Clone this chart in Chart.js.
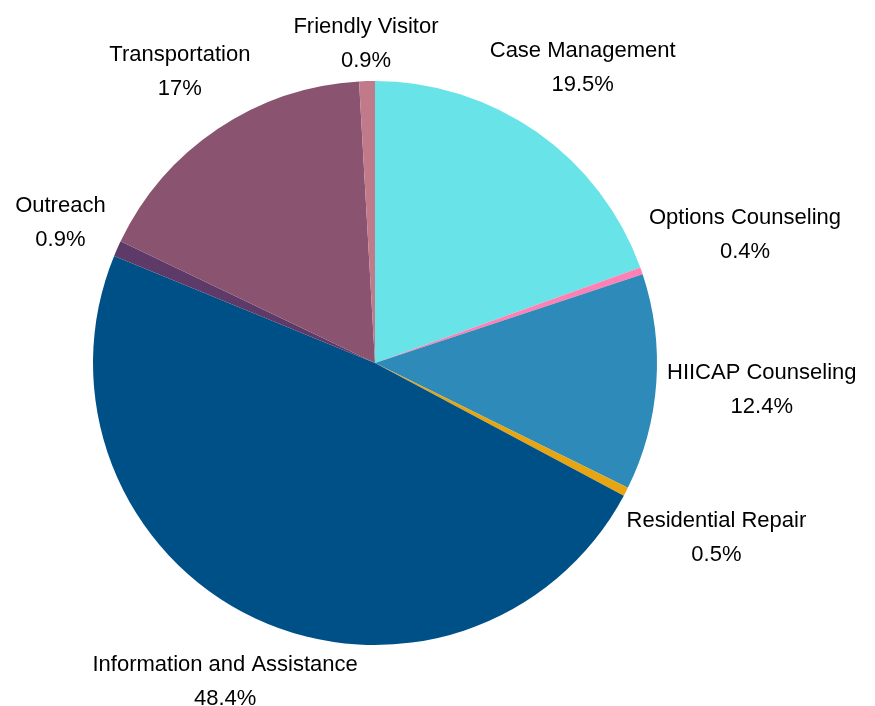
<!DOCTYPE html>
<html>
<head>
<meta charset="utf-8">
<script src="https://cdn.jsdelivr.net/npm/chart.js@4"></script>
<style>
  html, body { margin: 0; padding: 0; background: #fff; }
  #wrap { width: 875px; height: 706px; }
</style>
</head>
<body>
<div id="wrap"><canvas id="pieChart" width="875" height="706"></canvas></div>
<script>
// Chart data
const categories = ['Case Management', 'Options Counseling', 'HIICAP Counseling', 'Residential Repair',
    'Information and Assistance', 'Outreach', 'Transportation', 'Friendly Visitor'];
const shares = [19.5, 0.4, 12.4, 0.5, 48.4, 0.9, 17, 0.9];
const sliceColors = ['#68E4E9', '#FF80B4', '#2E8BB9', '#E6A511', '#005088', '#5E3A68', '#8A5470', '#C07A8A'];

// Draws "name / percent" labels outside each slice
const outsideLabels = {
    id: 'outsideLabels',
    afterDatasetsDraw(chart) {
        const ctx = chart.ctx;
        const arcs = chart.getDatasetMeta(0).data;
        const lineGap = 34;
        ctx.save();
        ctx.font = '22px "Liberation Sans", Arial, sans-serif';
        ctx.fillStyle = '#000';
        ctx.textAlign = 'center';
        ctx.textBaseline = 'middle';
        arcs.forEach((arc, i) => {
            const { x, y, startAngle, endAngle, outerRadius } = arc.getProps(['x', 'y', 'startAngle', 'endAngle', 'outerRadius'], true);
            const mid = (startAngle + endAngle) / 2;
            const ux = Math.cos(mid), uy = Math.sin(mid);
            const name = categories[i];
            const pct = shares[i] + '%';
            const hw = Math.max(ctx.measureText(name).width, ctx.measureText(pct).width) / 2;
            const hh = 27;
            const target = outerRadius + 10;
            // push box centre out along the ray until the box clears the circle
            let lo = 0, hi = outerRadius + 400;
            for (let k = 0; k < 40; k++) {
                const t = (lo + hi) / 2;
                const dx = Math.max(Math.abs(t * ux) - hw, 0);
                const dy = Math.max(Math.abs(t * uy) - hh, 0);
                if (Math.hypot(dx, dy) < target) lo = t; else hi = t;
            }
            const cx = x + hi * ux, cy = y + hi * uy;
            ctx.fillText(name, cx, cy - lineGap / 2);
            ctx.fillText(pct, cx, cy + lineGap / 2);
        });
        ctx.restore();
    }
};

const ctx = document.getElementById('pieChart').getContext('2d');
const pieChart = new Chart(ctx, {
    type: 'pie',
    data: {
        labels: categories,
        datasets: [{
            data: shares,
            backgroundColor: sliceColors,
            borderWidth: 0
        }]
    },
    options: {
        responsive: false,
        animation: false,
        layout: { padding: { top: 81, bottom: 61, left: 93, right: 218 } },
        plugins: {
            legend: { display: false },
            tooltip: { enabled: false }
        }
    },
    plugins: [outsideLabels]
});
</script>
</body>
</html>
